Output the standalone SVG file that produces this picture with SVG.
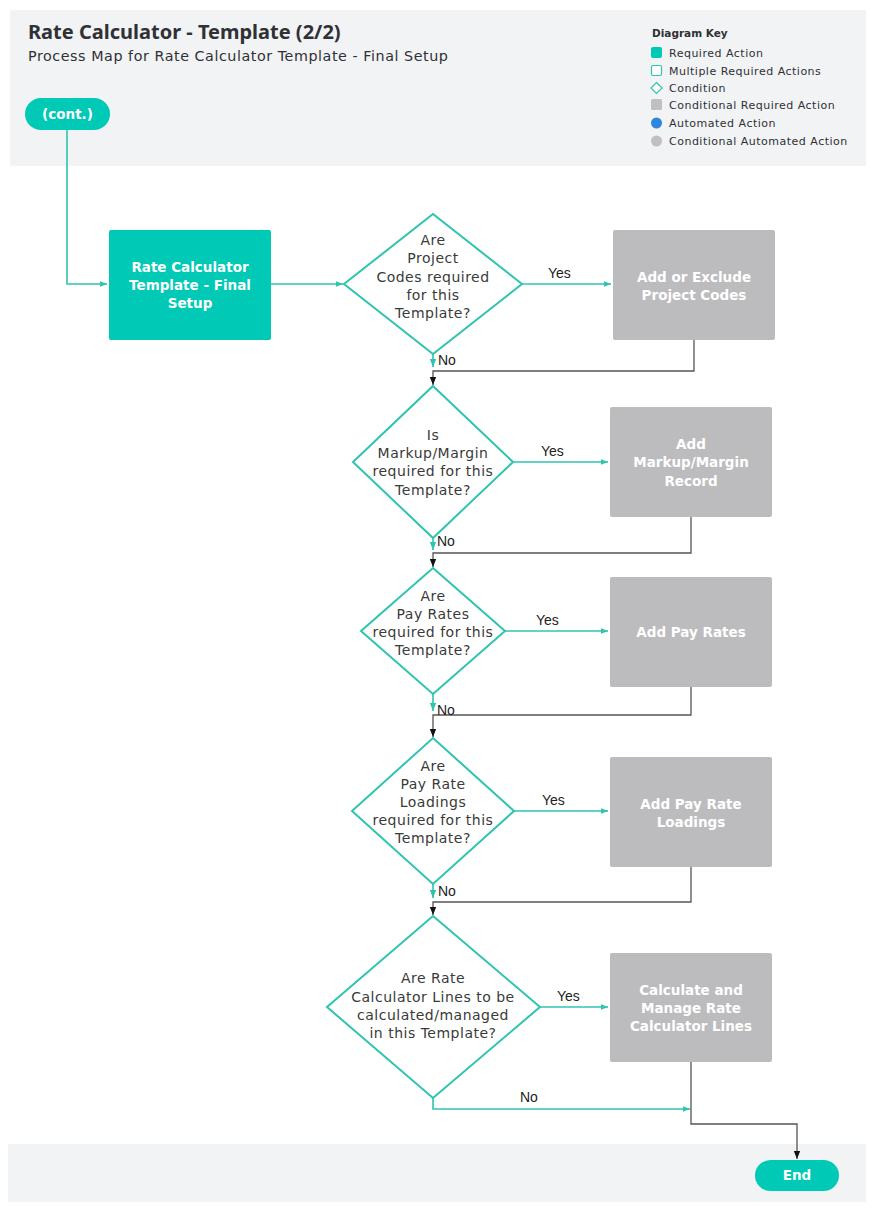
<svg xmlns="http://www.w3.org/2000/svg" width="876" height="1213" viewBox="0 0 876 1213">
  <style>
    .panel { fill: #f2f3f5; }
    .title { font-family: "Noto Sans", "Open Sans", sans-serif; font-weight: 700; font-size: 20px; fill: #2f3135; }
    .subtitle { font-family: "DejaVu Sans", "Noto Sans", sans-serif; font-size: 14.3px; letter-spacing: 0.55px; fill: #2f3135; }
    .keyhead { font-family: "DejaVu Sans", "Noto Sans", sans-serif; font-weight: 700; font-size: 10.5px; fill: #2f3135; }
    .key { font-family: "DejaVu Sans", "Noto Sans", sans-serif; font-size: 11px; letter-spacing: 0.5px; fill: #2f3135; }
    .req { fill: #00c9b5; }
    .cond { fill: #bcbcbe; }
    .dia { fill: #ffffff; stroke: #2ec4b0; stroke-width: 2; }
    .ntext { font-family: "DejaVu Sans", "Noto Sans", sans-serif; font-weight: 700; font-size: 13.5px; fill: #ffffff; text-anchor: middle; }
    .dtext { font-family: "DejaVu Sans", "Noto Sans", sans-serif; font-size: 14px; letter-spacing: 0.5px; fill: #3a3a3a; text-anchor: middle; }
    .lbl { font-family: "Liberation Sans", Arial, sans-serif; font-size: 14px; fill: #222222; }
    .teal { fill: none; stroke: #2ec4b0; stroke-width: 1.6; }
    .dark { fill: none; stroke: #555555; stroke-width: 1.3; }
  </style>
  <defs>
    <marker id="arrT" viewBox="0 0 10 10" refX="10" refY="5" markerWidth="7" markerHeight="7" markerUnits="userSpaceOnUse" orient="auto">
      <path d="M0,1 L10,5 L0,9 z" fill="#2ec4b0"/>
    </marker>
    <marker id="arrTv" viewBox="0 0 10 10" refX="10" refY="5" markerWidth="12" markerHeight="8" markerUnits="userSpaceOnUse" orient="auto">
      <path d="M0,1 L10,5 L0,9 z" fill="#2ec4b0"/>
    </marker>
    <marker id="arrK" viewBox="0 0 10 10" refX="10" refY="5" markerWidth="10" markerHeight="8" markerUnits="userSpaceOnUse" orient="auto">
      <path d="M0,1 L10,5 L0,9 z" fill="#111111"/>
    </marker>
  </defs>

  <!-- background panels -->
  <rect width="876" height="1213" fill="#ffffff"/>
  <rect class="panel" x="10" y="10" width="856" height="156"/>
  <rect class="panel" x="8" y="1144" width="858" height="58"/>

  <!-- header -->
  <g id="header">
    <text class="title" x="28" y="39">Rate Calculator - Template (2/2)</text>
    <text class="subtitle" x="28" y="61">Process Map for Rate Calculator Template - Final Setup</text>
  </g>

  <!-- key -->
  <g id="key">
    <text class="keyhead" x="652" y="37">Diagram Key</text>
    <rect x="651" y="47" width="11" height="11" rx="2" fill="#00c9b5"/>
    <text class="key" x="669" y="57">Required Action</text>
    <rect x="651.5" y="65.5" width="10" height="10" rx="1.5" fill="#ffffff" stroke="#2ec4b0" stroke-width="1.2"/>
    <text class="key" x="669" y="75">Multiple Required Actions</text>
    <path d="M656.5,82.5 L662,88 L656.5,93.5 L651,88 z" fill="#ffffff" stroke="#2ec4b0" stroke-width="1.2"/>
    <text class="key" x="669" y="92">Condition</text>
    <rect x="651" y="99" width="11" height="11" rx="1.5" fill="#c0c0c2"/>
    <text class="key" x="669" y="109">Conditional Required Action</text>
    <circle cx="656.5" cy="123" r="5.5" fill="#2e86de"/>
    <text class="key" x="669" y="127">Automated Action</text>
    <circle cx="656.5" cy="141" r="5.5" fill="#c0c0c2"/>
    <text class="key" x="669" y="145">Conditional Automated Action</text>
  </g>

  <!-- connectors -->
  <g id="connectors">
    <path class="teal" d="M67,130 V284 H107" marker-end="url(#arrT)"/>
    <path class="teal" d="M271,284 H343" marker-end="url(#arrT)"/>

    <path class="teal" d="M522,284 H611" marker-end="url(#arrT)"/>
    <path class="teal" d="M433,354 V367" marker-end="url(#arrTv)"/>
    <path class="dark" d="M694,340 V371 H433 V385" marker-end="url(#arrK)"/>

    <path class="teal" d="M513,462 H608" marker-end="url(#arrT)"/>
    <path class="teal" d="M433,538 V550" marker-end="url(#arrTv)"/>
    <path class="dark" d="M691,517 V553 H433 V567" marker-end="url(#arrK)"/>

    <path class="teal" d="M505,631 H608" marker-end="url(#arrT)"/>
    <path class="teal" d="M433,694 V711" marker-end="url(#arrTv)"/>
    <path class="dark" d="M691,687 V715 H433 V737" marker-end="url(#arrK)"/>

    <path class="teal" d="M514,811 H608" marker-end="url(#arrT)"/>
    <path class="teal" d="M433,884 V898" marker-end="url(#arrTv)"/>
    <path class="dark" d="M691,867 V902 H433 V915" marker-end="url(#arrK)"/>

    <path class="teal" d="M540,1007 H608" marker-end="url(#arrT)"/>
    <path class="teal" d="M433,1098 V1109 H690" marker-end="url(#arrT)"/>
    <path class="dark" d="M691,1062 V1124 H797 V1159" marker-end="url(#arrK)"/>

    <text class="lbl" x="548" y="278">Yes</text>
    <text class="lbl" x="438" y="365">No</text>
    <text class="lbl" x="541" y="456">Yes</text>
    <text class="lbl" x="437" y="546">No</text>
    <text class="lbl" x="536" y="625">Yes</text>
    <text class="lbl" x="437" y="715">No</text>
    <text class="lbl" x="542" y="805">Yes</text>
    <text class="lbl" x="438" y="896">No</text>
    <text class="lbl" x="557" y="1001">Yes</text>
    <text class="lbl" x="520" y="1102">No</text>
  </g>

  <!-- start terminator -->
  <g id="cont">
    <rect class="req" x="25" y="98" width="85" height="32" rx="16"/>
    <text class="ntext" x="67.5" y="119">(cont.)</text>
  </g>

  <g id="final-setup">
    <rect class="req" x="109" y="230" width="162" height="110" rx="2"/>
    <text class="ntext" x="190" y="272">Rate Calculator</text>
    <text class="ntext" x="190" y="290">Template - Final</text>
    <text class="ntext" x="190" y="308">Setup</text>
  </g>

  <g id="q-project-codes">
    <path class="dia" d="M433,214 L522,284 L433,354 L344,284 z"/>
    <text class="dtext" x="433" y="245">Are</text>
    <text class="dtext" x="433" y="263">Project</text>
    <text class="dtext" x="433" y="282">Codes required</text>
    <text class="dtext" x="433" y="300">for this</text>
    <text class="dtext" x="433" y="318">Template?</text>
  </g>

  <g id="project-codes">
    <rect class="cond" x="613" y="230" width="162" height="110" rx="2"/>
    <text class="ntext" x="694" y="282">Add or Exclude</text>
    <text class="ntext" x="694" y="300">Project Codes</text>
  </g>

  <g id="q-markup">
    <path class="dia" d="M433,386 L513,462 L433,538 L353,462 z"/>
    <text class="dtext" x="433" y="440">Is</text>
    <text class="dtext" x="433" y="458">Markup/Margin</text>
    <text class="dtext" x="433" y="476">required for this</text>
    <text class="dtext" x="433" y="495">Template?</text>
  </g>

  <g id="markup">
    <rect class="cond" x="610" y="407" width="162" height="110" rx="2"/>
    <text class="ntext" x="691" y="449">Add</text>
    <text class="ntext" x="691" y="467">Markup/Margin</text>
    <text class="ntext" x="691" y="486">Record</text>
  </g>

  <g id="q-pay-rates">
    <path class="dia" d="M433,568 L505,631 L433,694 L361,631 z"/>
    <text class="dtext" x="433" y="601">Are</text>
    <text class="dtext" x="433" y="619">Pay Rates</text>
    <text class="dtext" x="433" y="637">required for this</text>
    <text class="dtext" x="433" y="655">Template?</text>
  </g>

  <g id="pay-rates">
    <rect class="cond" x="610" y="577" width="162" height="110" rx="2"/>
    <text class="ntext" x="691" y="637">Add Pay Rates</text>
  </g>

  <g id="q-loadings">
    <path class="dia" d="M433,738 L514,811 L433,884 L352,811 z"/>
    <text class="dtext" x="433" y="771">Are</text>
    <text class="dtext" x="433" y="789">Pay Rate</text>
    <text class="dtext" x="433" y="807">Loadings</text>
    <text class="dtext" x="433" y="825">required for this</text>
    <text class="dtext" x="433" y="843">Template?</text>
  </g>

  <g id="loadings">
    <rect class="cond" x="610" y="757" width="162" height="110" rx="2"/>
    <text class="ntext" x="691" y="809">Add Pay Rate</text>
    <text class="ntext" x="691" y="827">Loadings</text>
  </g>

  <g id="q-lines">
    <path class="dia" d="M433,916 L540,1007 L433,1098 L327,1007 z"/>
    <text class="dtext" x="433" y="983">Are Rate</text>
    <text class="dtext" x="433" y="1002">Calculator Lines to be</text>
    <text class="dtext" x="433" y="1020">calculated/managed</text>
    <text class="dtext" x="433" y="1038">in this Template?</text>
  </g>

  <g id="lines">
    <rect class="cond" x="610" y="953" width="162" height="109" rx="2"/>
    <text class="ntext" x="691" y="995">Calculate and</text>
    <text class="ntext" x="691" y="1013">Manage Rate</text>
    <text class="ntext" x="691" y="1031">Calculator Lines</text>
  </g>

  <g id="end">
    <rect class="req" x="755" y="1160" width="84" height="31" rx="15.5"/>
    <text class="ntext" x="797" y="1180">End</text>
  </g>
</svg>
